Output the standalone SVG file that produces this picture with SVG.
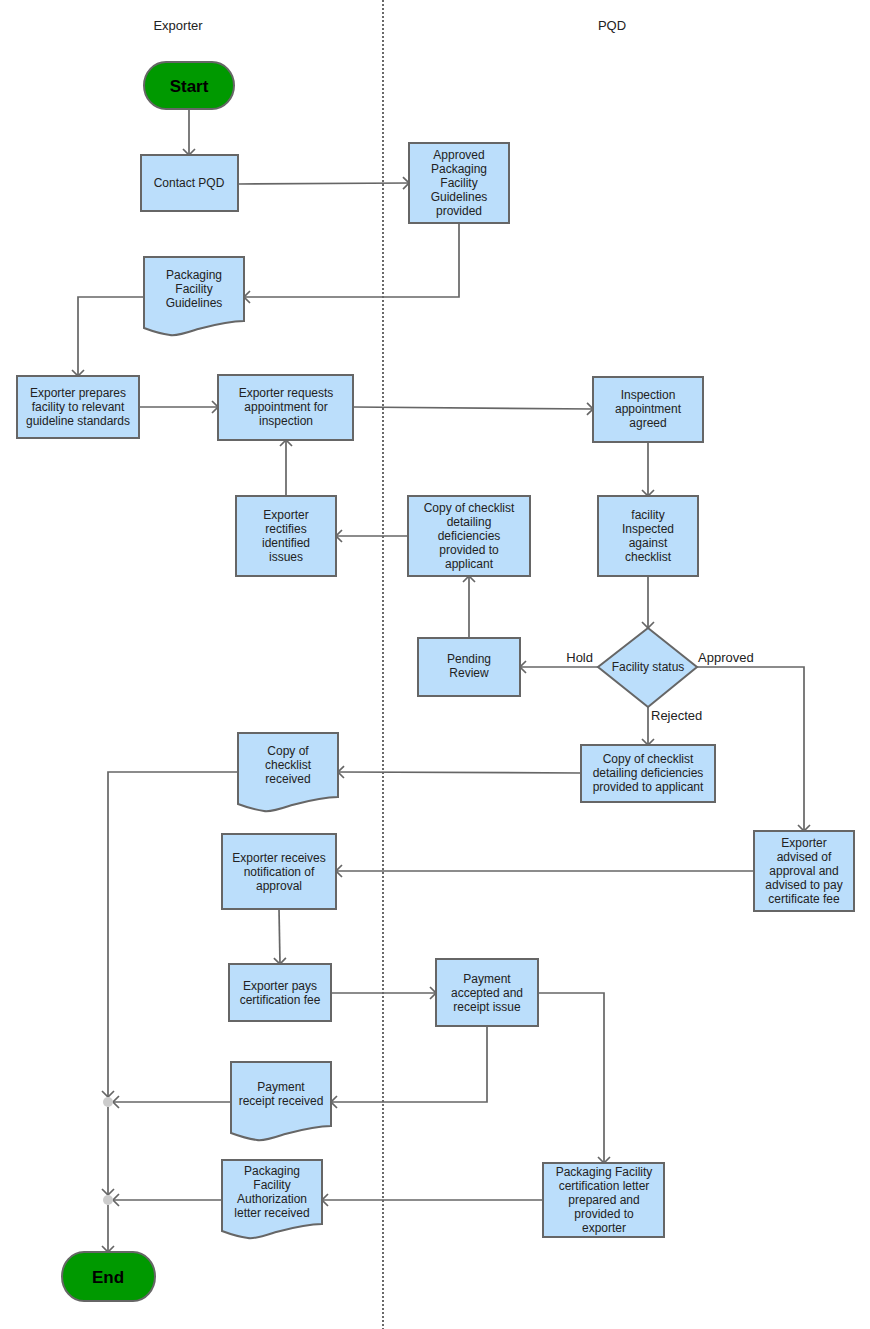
<svg xmlns="http://www.w3.org/2000/svg" xmlns:xlink="http://www.w3.org/1999/xlink" width="870" height="1329" viewBox="0 0 870 1329">
<style>
.box{fill:#bbdefb;stroke:#666;stroke-width:2}
.term{fill:#009900;stroke:#666;stroke-width:2}
.t{font-family:"Liberation Sans",Arial,sans-serif;font-size:12px;fill:#222;text-anchor:middle}
.h{font-family:"Liberation Sans",Arial,sans-serif;font-size:13px;fill:#222;text-anchor:middle}
.lbl{font-family:"Liberation Sans",Arial,sans-serif;font-size:13px;fill:#222}
.big{font-family:"Liberation Sans",Arial,sans-serif;font-size:17px;font-weight:bold;fill:#000;text-anchor:middle}
.ca{fill:none;stroke:#666;stroke-width:1.7;marker-end:url(#arr)}
.dot{fill:#cccccc}
</style>
<defs>
<marker id="arr" viewBox="-8 -8 9 16" markerWidth="9" markerHeight="16" refX="0" refY="0" orient="auto" markerUnits="userSpaceOnUse">
<path d="M-6,-6 L0,0 L-6,6" fill="none" stroke="#666" stroke-width="1.7"/>
</marker>
<path id="doc" d="M0,0 H100 V64 C82,64 66,69 51,73 C39,77 32,79 26,78 C18,77 8,74 0,71 Z"/>
</defs>
<line x1="383" y1="0" x2="383" y2="1329" stroke="#444" stroke-width="1.6" stroke-dasharray="2,2"/>
<text class="h" x="178" y="30">Exporter</text>
<text class="h" x="612" y="30">PQD</text>

<g id="connectors">
<path class="ca" d="M189,109 V155"/>
<path class="ca" d="M238,184 L409,183"/>
<path class="ca" d="M459,223 V297 H244"/>
<path class="ca" d="M144,297 H78 V376"/>
<path class="ca" d="M139,407 H218"/>
<path class="ca" d="M353,407 L593,409"/>
<path class="ca" d="M648,442 V496"/>
<path class="ca" d="M648,576 V628"/>
<path class="ca" d="M598,667 H520"/>
<path class="ca" d="M697,667 H804 V831"/>
<path class="ca" d="M648,707 V745"/>
<path class="ca" d="M469,638 V576"/>
<path class="ca" d="M408,536 H336"/>
<path class="ca" d="M286,496 V440"/>
<path class="ca" d="M581,773 L338,772"/>
<path class="ca" d="M238,772 H108 V1097"/>
<path class="ca" d="M754,871 H336"/>
<path class="ca" d="M279,909 L280,964"/>
<path class="ca" d="M331,993 H436"/>
<path class="ca" d="M487,1026 V1102 H331"/>
<path class="ca" d="M231,1102 H113"/>
<path class="ca" d="M538,993 H604 V1163"/>
<path class="ca" d="M543,1200 H322"/>
<path class="ca" d="M222,1200 H113"/>
<path class="ca" d="M108,1107 V1195"/>
<path class="ca" d="M108,1205 V1252"/>
<text class="lbl" x="593" y="662" text-anchor="end">Hold</text>
<text class="lbl" x="698" y="662">Approved</text>
<text class="lbl" x="651" y="720">Rejected</text>
</g>

<g id="start">
<rect class="term" x="144" y="62" width="90" height="47" rx="22" ry="23.5"/>
<text class="big" x="189" y="92">Start</text>
</g>
<g id="contact">
<rect class="box" x="141" y="155" width="97" height="56"/>
<text class="t" x="189" y="187">Contact PQD</text>
</g>
<g id="approved-guidelines">
<rect class="box" x="409" y="143" width="100" height="80"/>
<text class="t" x="459"><tspan x="459" y="159">Approved</tspan><tspan x="459" y="173">Packaging</tspan><tspan x="459" y="187">Facility</tspan><tspan x="459" y="201">Guidelines</tspan><tspan x="459" y="215">provided</tspan></text>
</g>
<g id="pf-guidelines">
<use xlink:href="#doc" class="box" transform="translate(144,257)"/>
<text class="t"><tspan x="194" y="279">Packaging</tspan><tspan x="194" y="293">Facility</tspan><tspan x="194" y="307">Guidelines</tspan></text>
</g>
<g id="prepares">
<rect class="box" x="17" y="376" width="122" height="62"/>
<text class="t"><tspan x="78" y="397">Exporter prepares</tspan><tspan x="78" y="411">facility to relevant</tspan><tspan x="78" y="425">guideline standards</tspan></text>
</g>
<g id="requests">
<rect class="box" x="218" y="375" width="135" height="65"/>
<text class="t"><tspan x="286" y="397">Exporter requests</tspan><tspan x="286" y="411">appointment for</tspan><tspan x="286" y="425">inspection</tspan></text>
</g>
<g id="appointment">
<rect class="box" x="593" y="377" width="110" height="65"/>
<text class="t"><tspan x="648" y="399">Inspection</tspan><tspan x="648" y="413">appointment</tspan><tspan x="648" y="427">agreed</tspan></text>
</g>
<g id="inspected">
<rect class="box" x="598" y="496" width="100" height="80"/>
<text class="t"><tspan x="648" y="519">facility</tspan><tspan x="648" y="533">Inspected</tspan><tspan x="648" y="547">against</tspan><tspan x="648" y="561">checklist</tspan></text>
</g>
<g id="copy-upper">
<rect class="box" x="408" y="496" width="122" height="80"/>
<text class="t"><tspan x="469" y="512">Copy of checklist</tspan><tspan x="469" y="526">detailing</tspan><tspan x="469" y="540">deficiencies</tspan><tspan x="469" y="554">provided to</tspan><tspan x="469" y="568">applicant</tspan></text>
</g>
<g id="rectifies">
<rect class="box" x="236" y="496" width="100" height="80"/>
<text class="t"><tspan x="286" y="519">Exporter</tspan><tspan x="286" y="533">rectifies</tspan><tspan x="286" y="547">identified</tspan><tspan x="286" y="561">issues</tspan></text>
</g>
<g id="status">
<path class="box" d="M648,628 L697,667 L648,707 L598,667 Z"/>
<text class="t" x="648" y="671">Facility status</text>
</g>
<g id="pending">
<rect class="box" x="418" y="638" width="102" height="58"/>
<text class="t"><tspan x="469" y="663">Pending</tspan><tspan x="469" y="677">Review</tspan></text>
</g>
<g id="copy-lower">
<rect class="box" x="581" y="745" width="134" height="57"/>
<text class="t"><tspan x="648" y="763">Copy of checklist</tspan><tspan x="648" y="777">detailing deficiencies</tspan><tspan x="648" y="791">provided to applicant</tspan></text>
</g>
<g id="copy-received">
<use xlink:href="#doc" class="box" transform="translate(238,733)"/>
<text class="t"><tspan x="288" y="755">Copy of</tspan><tspan x="288" y="769">checklist</tspan><tspan x="288" y="783">received</tspan></text>
</g>
<g id="advised">
<rect class="box" x="754" y="831" width="100" height="80"/>
<text class="t"><tspan x="804" y="847">Exporter</tspan><tspan x="804" y="861">advised of</tspan><tspan x="804" y="875">approval and</tspan><tspan x="804" y="889">advised to pay</tspan><tspan x="804" y="903">certificate fee</tspan></text>
</g>
<g id="receives">
<rect class="box" x="222" y="834" width="114" height="75"/>
<text class="t"><tspan x="279" y="862">Exporter receives</tspan><tspan x="279" y="876">notification of</tspan><tspan x="279" y="890">approval</tspan></text>
</g>
<g id="pays">
<rect class="box" x="229" y="964" width="102" height="57"/>
<text class="t"><tspan x="280" y="990">Exporter pays</tspan><tspan x="280" y="1004">certification fee</tspan></text>
</g>
<g id="payment-accepted">
<rect class="box" x="436" y="959" width="102" height="67"/>
<text class="t"><tspan x="487" y="983">Payment</tspan><tspan x="487" y="997">accepted and</tspan><tspan x="487" y="1011">receipt issue</tspan></text>
</g>
<g id="receipt-received">
<use xlink:href="#doc" class="box" transform="translate(231,1062)"/>
<text class="t"><tspan x="281" y="1091">Payment</tspan><tspan x="281" y="1105">receipt received</tspan></text>
</g>
<g id="cert-letter">
<rect class="box" x="543" y="1163" width="121" height="74"/>
<text class="t"><tspan x="604" y="1176">Packaging Facility</tspan><tspan x="604" y="1190">certification letter</tspan><tspan x="604" y="1204">prepared and</tspan><tspan x="604" y="1218">provided to</tspan><tspan x="604" y="1232">exporter</tspan></text>
</g>
<g id="auth-letter">
<use xlink:href="#doc" class="box" transform="translate(222,1160)"/>
<text class="t"><tspan x="272" y="1175">Packaging</tspan><tspan x="272" y="1189">Facility</tspan><tspan x="272" y="1203">Authorization</tspan><tspan x="272" y="1217">letter received</tspan></text>
</g>
<g id="junction1"><circle class="dot" cx="108" cy="1102" r="5"/></g>
<g id="junction2"><circle class="dot" cx="108" cy="1200" r="5"/></g>
<g id="end">
<rect class="term" x="62" y="1252" width="93" height="49" rx="22" ry="24.5"/>
<text class="big" x="108" y="1283">End</text>
</g>
</svg>
